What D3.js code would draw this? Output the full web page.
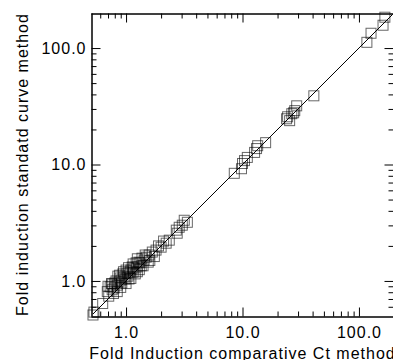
<!DOCTYPE html>
<html><head><meta charset="utf-8">
<script src="https://cdn.jsdelivr.net/npm/d3@7"></script>
<style>
html,body{margin:0;padding:0;background:#fff;}
svg{display:block;}
text{font-family:"Liberation Sans",Arial,sans-serif;}
</style></head>
<body><svg id="c" width="393" height="360"></svg>
<script>
// Fold induction, comparative Ct method (x) vs standard curve method (y)
const comparativeCt = [167,161,127,117,41,29.2,28.1,26.5,24.4,23.9,25.4,27.5,
  15.8,13.5,13.2,12.7,11.0,10.4,10.0,9.8,8.5,
  2.70,2.75,2.86,3.04,3.16,3.36,
  2.35,2.21,2.0,1.81,1.68,1.58,1.49,1.46,1.43,1.37,1.32,1.29,1.24,1.22,1.17,1.13,1.15,1.10,1.08,1.02,1.0,1.04,1.06,0.98,0.96,0.94,0.91,0.89,0.87,0.92,0.85,0.84,0.80,0.76,0.84,0.79,0.73,0.76,0.69,0.71,0.63,0.53,0.52,
  1.75,1.9,1.55,2.1,1.25,1.35,
  0.75,0.82,0.90,1.0,1.10,1.20,1.30,1.40,0.95,1.05,1.15,0.88,1.25,1.60,0.70,0.78];
const standardCurve = [184,157,134,112,38.9,31.9,29.0,27.3,25.7,24.7,23.8,27.8,
  15.4,14.5,13.7,12.7,11.5,10.8,10.2,9.2,8.4,
  2.73,2.57,2.89,3.01,3.32,3.19,
  2.24,2.11,1.95,1.84,1.77,1.67,1.60,1.67,1.51,1.57,1.43,1.45,1.32,1.43,1.29,1.32,1.19,1.24,1.19,1.17,1.24,1.10,1.04,1.04,1.08,1.15,1.02,1.06,0.98,0.96,1.10,0.92,0.96,0.94,0.81,0.87,0.89,0.84,0.81,0.74,0.64,0.54,0.51,
  1.62,2.0,1.45,2.2,1.20,1.35,
  0.95,1.00,0.88,0.95,1.05,1.15,1.25,1.35,1.20,1.30,1.40,1.12,1.55,1.50,0.90,0.78];
const axisDomain = [0.5, 200];
const majorTicks = [1, 10, 100];
const minorTicks = [0.6,0.7,0.8,0.9,2,3,4,5,6,7,8,9,20,30,40,50,60,70,80,90];
const fitLine = [0.52, 195];
const xTitle = "Fold Induction comparative Ct method";
const yTitle = "Fold induction standatd curve method";

const svg = d3.select("#c");
const L = 91, R = 394, T = 13, B = 316;
const x = d3.scaleLog().domain(axisDomain).range([L, R]);
const y = d3.scaleLog().domain(axisDomain).range([B, T]);
const fmt = d3.format(".1f");

function styleAxis(g){
  g.attr("font-family",null).attr("font-size",null);
  g.selectAll("path.domain").attr("stroke","#000").attr("stroke-width",1);
  g.selectAll(".tick line").attr("stroke","#000").attr("stroke-width",1);
  g.selectAll(".tick text").attr("fill","#000").style("font-size","16px").style("letter-spacing","1px");
}
// bottom
const gb = svg.append("g").attr("transform",`translate(0,${B+0.5})`)
  .call(d3.axisBottom(x).tickValues(majorTicks).tickFormat(fmt).tickSizeInner(-9).tickSizeOuter(0).tickPadding(10));
styleAxis(gb);
const gbm = svg.append("g").attr("transform",`translate(0,${B+0.5})`)
  .call(d3.axisBottom(x).tickValues(minorTicks).tickFormat(()=>"").tickSizeInner(-5).tickSizeOuter(0));
styleAxis(gbm);
// top
const gt = svg.append("g").attr("transform",`translate(0,${T+0.5})`)
  .call(d3.axisTop(x).tickValues(majorTicks).tickFormat(()=>"").tickSizeInner(-9).tickSizeOuter(0));
styleAxis(gt);
const gtm = svg.append("g").attr("transform",`translate(0,${T+0.5})`)
  .call(d3.axisTop(x).tickValues(minorTicks).tickFormat(()=>"").tickSizeInner(-5).tickSizeOuter(0));
styleAxis(gtm);
// left
const gl = svg.append("g").attr("transform",`translate(${L+0.5},0)`)
  .call(d3.axisLeft(y).tickValues(majorTicks).tickFormat(fmt).tickSizeInner(-9).tickSizeOuter(0).tickPadding(5));
styleAxis(gl);
const glm = svg.append("g").attr("transform",`translate(${L+0.5},0)`)
  .call(d3.axisLeft(y).tickValues(minorTicks).tickFormat(()=>"").tickSizeInner(-5).tickSizeOuter(0));
styleAxis(glm);
// right
const gr = svg.append("g").attr("transform",`translate(${R-0.5},0)`)
  .call(d3.axisRight(y).tickValues(majorTicks).tickFormat(()=>"").tickSizeInner(-9).tickSizeOuter(0));
styleAxis(gr);
const grm = svg.append("g").attr("transform",`translate(${R-0.5},0)`)
  .call(d3.axisRight(y).tickValues(minorTicks).tickFormat(()=>"").tickSizeInner(-5).tickSizeOuter(0));
styleAxis(grm);

// line y = x
svg.append("line")
  .attr("x1", x(fitLine[0])).attr("y1", y(fitLine[0]))
  .attr("x2", x(fitLine[1])).attr("y2", y(fitLine[1]))
  .attr("stroke","#000").attr("stroke-width",1);

// squares
const pts = comparativeCt.map((v,i)=>({x:v, y:standardCurve[i]}));
const s = 10;
svg.append("g").selectAll("rect").data(pts).join("rect")
  .attr("x", d=>x(d.x)-s/2).attr("y", d=>y(d.y)-s/2)
  .attr("width", s).attr("height", s)
  .attr("fill","none").attr("stroke","#000").attr("stroke-opacity",0.6).attr("stroke-width",1);

// titles
svg.append("text").attr("x",(L+R)/2).attr("y",359).attr("text-anchor","middle")
  .style("font-size","16px").style("letter-spacing","1px").text(xTitle);
svg.append("text").attr("transform",`translate(28,${(T+B)/2}) rotate(-90)`).attr("text-anchor","middle")
  .style("font-size","16px").style("letter-spacing","1px").text(yTitle);
</script></body></html>
